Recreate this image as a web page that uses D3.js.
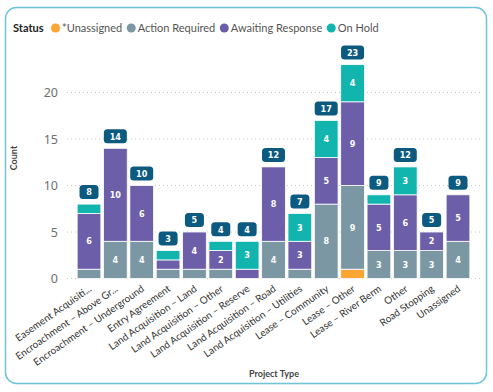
<!DOCTYPE html>
<html><head><meta charset="utf-8">
<script src="https://cdn.jsdelivr.net/npm/d3@7"></script>
<style>
html,body{margin:0;padding:0;background:#fff;}
svg{display:block;}
</style></head>
<body>
<svg id="chart" width="493" height="392"></svg>
<script>
const categories = ["Easement Acquisiti...","Encroachment – Above Gr...","Encroachment – Underground","Entry Agreement","Land Acquisition – Land","Land Acquisition – Other","Land Acquisition – Reserve","Land Acquisition – Road","Land Acquisition – Utilities","Lease – Community","Lease – Other","Lease – River Berm","Other","Road Stopping","Unassigned"];
const statuses = ["*Unassigned","Action Required","Awaiting Response","On Hold"];
const unassigned      = [0,0,0,0,0,0,0,0,0,0,1,0,0,0,0];
const actionRequired  = [1,4,4,1,1,1,0,4,1,8,9,3,3,3,4];
const awaitingResponse= [6,10,6,1,4,2,1,8,3,5,9,5,6,2,5];
const onHold          = [1,0,0,1,0,1,3,0,3,4,4,1,3,0,0];
const yTicks = [0,5,10,15,20];
const colors = ["#FBA533","#7C97A4","#6C5EA9","#12B5AE"];

const svg = d3.select("#chart");
const font = "Lato,'Segoe UI',sans-serif";

// card
svg.append("rect").attr("x",5.5).attr("y",7.5).attr("width",481).attr("height",376)
  .attr("rx",11).attr("fill","#fff").attr("stroke","#6EC4DA").attr("stroke-width",1.5);

const series = [unassigned, actionRequired, awaitingResponse, onHold];
const rows = categories.map((c,i)=>{const o={cat:c}; statuses.forEach((s,j)=>o[s]=series[j][i]); return o;});
const stacked = d3.stack().keys(statuses)(rows);
const totals = categories.map((c,i)=>d3.sum(series,s=>s[i]));

const x = d3.scaleBand().domain(categories).range([67,480]).paddingInner(0.1).paddingOuter(0.385);
const y = d3.scaleLinear().domain([0,20]).range([278.5,92.5]);

// gridlines
svg.append("g").selectAll("line").data(yTicks).join("line")
  .attr("x1",67).attr("x2",480).attr("y1",d=>y(d)).attr("y2",d=>y(d))
  .attr("stroke","#C8C8C8").attr("stroke-width",1).attr("stroke-dasharray","1,3");

// y axis labels
const yAxis = d3.axisLeft(y).tickValues(yTicks).tickSize(0).tickPadding(0);
const ga = svg.append("g").attr("transform","translate(58,0)").call(yAxis);
ga.select(".domain").remove();
ga.selectAll("text").attr("font-family","'Segoe UI','Noto Sans',sans-serif").attr("font-size",12.5).attr("fill","#707070");

// bars
svg.append("g").selectAll("g").data(stacked).join("g").attr("fill",(d,i)=>colors[i])
  .selectAll("rect").data(d=>d).join("rect")
  .attr("x",d=>x(d.data.cat)).attr("width",x.bandwidth())
  .attr("y",d=>y(d[1])).attr("height",d=>Math.max(0,y(d[0])-y(d[1])))
  .attr("stroke","#fff").attr("stroke-width",d=>(d[1]-d[0])>0?0.8:0);

// segment labels
stacked.forEach((s,si)=>{
  svg.append("g").selectAll("text").data(s.filter(d=>d[1]-d[0]>=2)).join("text")
    .attr("x",d=>x(d.data.cat)+x.bandwidth()/2).attr("y",d=>y((d[0]+d[1])/2))
    .attr("dy","0.35em").attr("text-anchor","middle")
    .attr("font-family","'DejaVu Sans Condensed','DejaVu Sans',sans-serif").attr("font-weight","bold")
    .attr("font-size",9).attr("fill","#fff").text(d=>d[1]-d[0]);
});

// total badges
const badges = svg.append("g").selectAll("g").data(categories).join("g")
  .attr("transform",(c,i)=>`translate(${x(c)+x.bandwidth()/2},${y(totals[i])-12})`);
badges.each(function(c,i){
  const g=d3.select(this);
  const t=String(totals[i]);
  const w = t.length>1?23:19;
  g.append("rect").attr("x",-w/2).attr("y",-7).attr("width",w).attr("height",14).attr("rx",3.5).attr("fill","#0C5A80");
  g.append("text").attr("text-anchor","middle").attr("dy","0.36em")
    .attr("font-family","'DejaVu Sans Condensed','DejaVu Sans',sans-serif").attr("font-weight","bold")
    .attr("font-size",9).attr("fill","#fff").text(t);
});

// x labels
const xAxis = d3.axisBottom(x).tickSize(0).tickPadding(0);
const gx = svg.append("g").attr("transform","translate(0,284)").call(xAxis);
gx.select(".domain").remove();
gx.selectAll("text").attr("font-family",font).attr("font-size",10).attr("fill","#333")
  .attr("text-anchor","end").attr("dy","0.7em").attr("dx","-0.1em")
  .attr("transform","rotate(-35)");

// axis titles
svg.append("text").attr("x",274).attr("y",377).attr("text-anchor","middle")
  .attr("font-family",font).attr("font-weight","bold").attr("font-size",9).attr("fill","#444").text("Project Type");
svg.append("text").attr("transform","translate(17,158) rotate(-90)").attr("text-anchor","middle")
  .attr("font-family",font).attr("font-weight","bold").attr("font-size",9).attr("fill","#444").text("Count");

// legend
const lg = svg.append("g").attr("transform","translate(0,28)");
const st = lg.append("text").attr("x",13).attr("dy","0.35em").attr("font-family",font).attr("font-weight","bold")
  .attr("font-size",11).attr("fill","#222").text("Status");
let lx = 13 + st.node().getComputedTextLength() + 12;
statuses.forEach((s,i)=>{
  lg.append("circle").attr("cx",lx).attr("cy",0).attr("r",4.5).attr("fill",colors[i]);
  const t = lg.append("text").attr("x",lx+6.5).attr("dy","0.35em").attr("font-family",font)
    .attr("font-size",11).attr("fill","#555").text(s);
  lx += 6.5 + t.node().getComputedTextLength() + 9;
});
</script>
</body></html>
